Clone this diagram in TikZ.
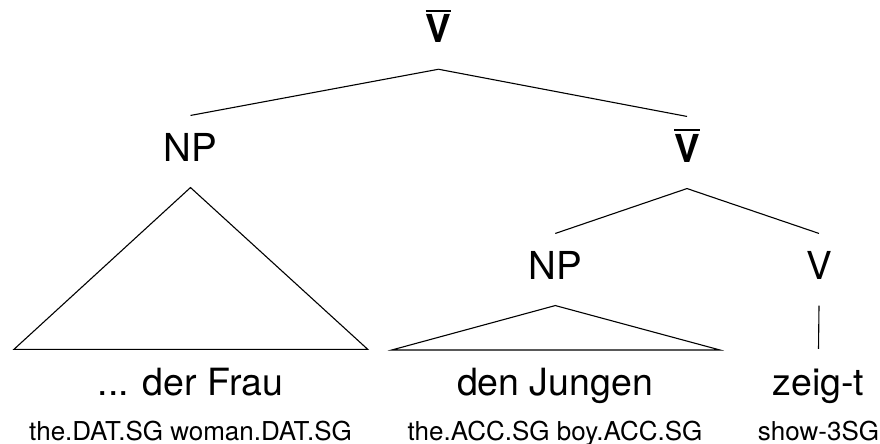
\documentclass[tikz,border=0pt]{standalone}
\usepackage{fontspec}
\setmainfont{TeX Gyre Heros}

% bar category (V-bar)
\newcommand{\barcat}[1]{\vbox{\hrule height 1.8pt\kern 3pt\hbox{\textbf{#1}}}}

\begin{document}
\begin{tikzpicture}[x=1pt, y=-1pt, line width=1.1pt,
    cat/.style={anchor=base, font=\fontsize{38.5}{40}\selectfont, inner xsep=0pt, inner ysep=16pt, text height=29pt, text depth=10pt},
    word/.style={anchor=base, font=\fontsize{37.5}{40}\selectfont, inner xsep=0pt, inner ysep=16.5pt, text height=29pt, text depth=0pt},
    gloss/.style={anchor=base, font=\fontsize{26}{28}\selectfont, inner sep=0pt}]
        \useasboundingbox (0,0) rectangle (880,444);

        \node[cat] (vbartop) at (438.5,42.7) {\barcat{V}};
        \node[cat] (npdat) at (190.5,161) {NP};
        \node[cat] (vbar) at (687,162) {\barcat{V}};
        \node[cat] (npacc) at (555.3,279) {NP};
        \node[cat] (verb) at (819,279) {V};

        \node[word] (frau) at (190.5,395) {... der Frau};
        \node[word] (jungen) at (555,395) {den Jungen};
        \node[word] (zeigt) at (818.5,395) {zeig-t};

        \node[gloss] (glfrau) at (190.5,440) {the.DAT.SG woman.DAT.SG};
        \node[gloss] (gljungen) at (555,440) {the.ACC.SG boy.ACC.SG};
        \node[gloss] (glzeigt) at (818.5,440) {show-3SG};

        \coordinate (frau-l) at (14,349.3);
        \coordinate (frau-r) at (367.7,349.3);
        \coordinate (jungen-l) at (391.7,350);
        \coordinate (jungen-r) at (720,350);

        \draw (vbartop.south) -- (npdat.north);
        \draw (vbartop.south) -- (vbar.north);
        \draw (vbar.south) -- (npacc.north);
        \draw (vbar.south) -- (verb.north);
        \draw (npdat.south) -- (frau-l) -- (frau-r) -- cycle;
        \draw (npacc.south) -- (jungen-l) -- (jungen-r) -- cycle;
        \draw (verb.south) -- (zeigt.north);
    \end{tikzpicture}
\end{document}
